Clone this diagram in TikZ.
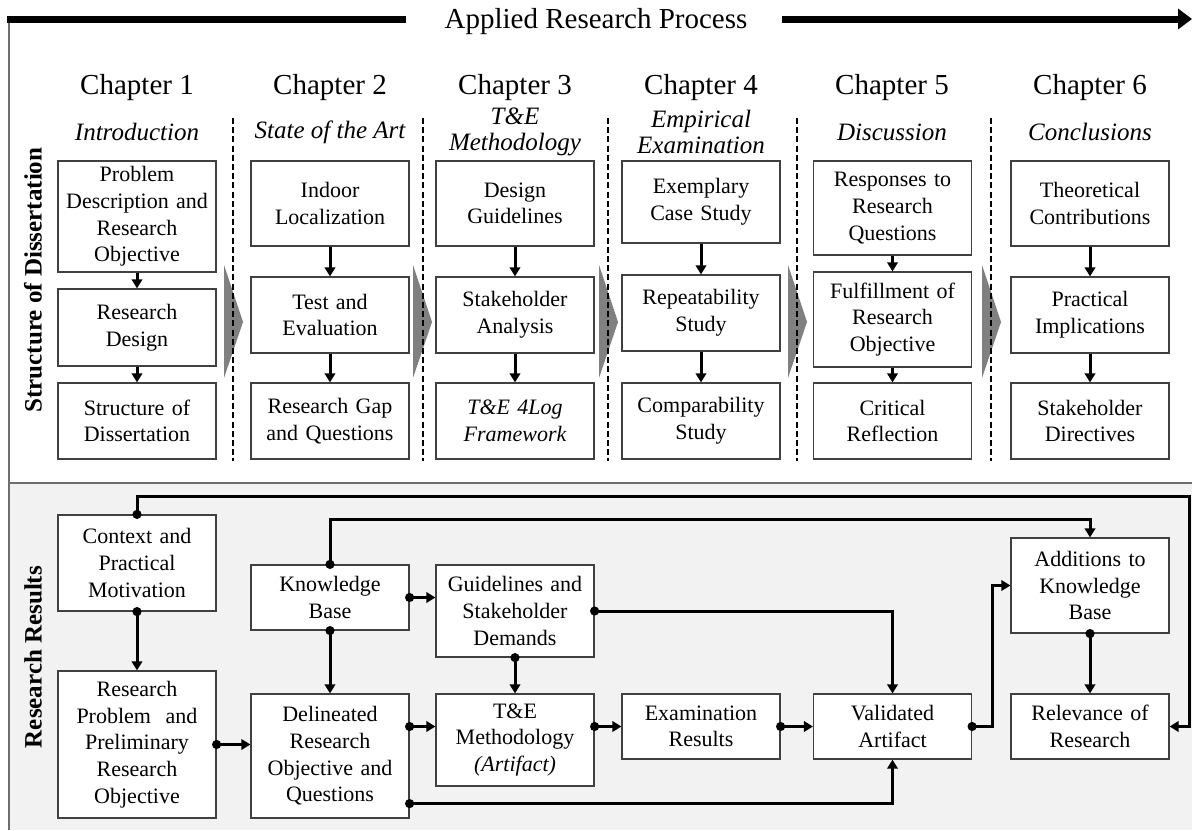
\documentclass[tikz,border=0pt]{standalone}
\usepackage{fontspec}
\setmainfont{Liberation Serif}
\usetikzlibrary{arrows.meta}
\definecolor{panelgray}{HTML}{F2F2F2}
\definecolor{framegray}{HTML}{6E6E6E}
\definecolor{boxline}{HTML}{404040}
\definecolor{chevgray}{HTML}{808080}
\newcommand\jdot[1]{\fill (#1) circle[radius=2.3pt];}
\begin{document}
\begin{tikzpicture}[x=0.5pt,y=-0.5pt,
  bx/.style={draw=boxline, fill=white, line width=0.6pt, minimum width=79pt,
    minimum height=#1*0.5pt, text width=77pt, align=center, inner sep=0pt,
    font=\fontsize{11}{13.3}\selectfont},
  bxi/.style={bx=#1, font=\fontsize{11}{13.3}\selectfont\itshape},
  flow/.style={line width=1.5pt, -{Triangle[length=4.5pt,width=5.2pt]}},
  divider/.style={line width=1.1pt, dash pattern=on 3pt off 1.6pt},
  topbar/.style={line width=3.5pt},
  chap/.style={font=\fontsize{14.5}{17}\selectfont},
  sub/.style={font=\fontsize{12.5}{13}\selectfont\itshape, align=center},
  side/.style={font=\fontsize{12.5}{15}\selectfont\bfseries, rotate=90},
  chevron/.style={fill=chevgray},
]
\useasboundingbox (0,0) rectangle (1192,830);

% lower panel and frame
\fill[panelgray] (9,483) rectangle (1192,830);
\draw[framegray, line width=0.9pt] (9,483) -- (1192,483);
\draw[framegray, line width=0.6pt] (9,19) -- (9,830);

% process arrow across the top
\node[font=\fontsize{14.5}{17}\selectfont] (ttl) at (596,22) {Applied Research Process};
\coordinate (barL0) at (7,19);
\coordinate (barL1) at (406,19);
\coordinate (barR0) at (782,19);
\coordinate (barR1) at (1192,19);
\draw[topbar] (barL0) -- (barL1);
\draw[topbar, -{Triangle[length=7pt,width=10pt]}] (barR0) -- (barR1);

% side labels
\node[side] (lblA) at (33,280) {Structure of Dissertation};
\node[side] (lblB) at (33,657) {Research Results};

% chapter headings
\node[chap] (h1) at (137,88) {Chapter 1};
\node[chap] (h2) at (330,88) {Chapter 2};
\node[chap] (h3) at (515,88) {Chapter 3};
\node[chap] (h4) at (701,88) {Chapter 4};
\node[chap] (h5) at (892,88) {Chapter 5};
\node[chap] (h6) at (1090,88) {Chapter 6};
\node[sub] (s1) at (137,132) {Introduction};
\node[sub] (s2) at (330,132) {State of the Art};
\node[sub] (s3) at (515,132) {T\&E\\Methodology};
\node[sub] (s4) at (701,132) {Empirical\\Examination};
\node[sub] (s5) at (892,132) {Discussion};
\node[sub] (s6) at (1090,132) {Conclusions};

% chevrons between chapters
\fill[chevron] (224,265) -- (243,322) -- (224,378) -- cycle;
\fill[chevron] (413,265) -- (432,322) -- (413,378) -- cycle;
\fill[chevron] (599,265) -- (618,322) -- (599,378) -- cycle;
\fill[chevron] (788,265) -- (807,322) -- (788,378) -- cycle;
\fill[chevron] (982,265) -- (1001,322) -- (982,378) -- cycle;

% chapter dividers
\foreach \x in {233,423,608,797,991}
  \draw[divider] (\x,118) -- (\x,461);

% chapter contents
\node[bx=111] (a1) at (137,216.5) {Problem\\Description and\\Research\\Objective};
\node[bx=77]  (a2) at (137,327.5) {Research\\Design};
\node[bx=76]  (a3) at (137,421) {Structure of\\Dissertation};

\node[bx=85] (b1) at (330,203.5) {Indoor\\Localization};
\node[bx=76] (b2) at (330,315) {Test and\\Evaluation};
\node[bx=76] (b3) at (330,421) {Research Gap\\and Questions};

\node[bx=85]  (c1) at (515,203.5) {Design\\Guidelines};
\node[bx=76]  (c2) at (515,315) {Stakeholder\\Analysis};
\node[bxi=76] (c3) at (515,421) {T\&E 4Log\\Framework};

\node[bx=82] (d1) at (701,202) {Exemplary\\Case Study};
\node[bx=76] (d2) at (701,313) {Repeatability\\Study};
\node[bx=76] (d3) at (701,421) {Comparability\\Study};

\node[bx=94] (e1) at (892.5,208) {Responses to\\Research\\Questions};
\node[bx=95] (e2) at (892.5,319.5) {Fulfillment of\\Research\\Objective};
\node[bx=76] (e3) at (892.5,421) {Critical\\Reflection};

\node[bx=85] (f1) at (1090,203.5) {Theoretical\\Contributions};
\node[bx=76] (f2) at (1090,315) {Practical\\Implications};
\node[bx=76] (f3) at (1090,421) {Stakeholder\\Directives};

\foreach \c in {a,b,c,d,e,f}{
  \draw[flow] (\c1.south) -- (\c2.north);
  \draw[flow] (\c2.south) -- (\c3.north);
}

% research results
\node[bx=96]  (ctx)  at (137,563)    {Context and\\Practical\\Motivation};
\node[bx=147] (rp)   at (137,744.5)  {Research\\Problem~ and\\Preliminary\\Research\\Objective};
\node[bx=65]  (kb)   at (330,597.5)  {Knowledge\\Base};
\node[bx=124] (del)  at (330,756)    {Delineated\\Research\\Objective and\\Questions};
\node[bx=92]  (gsd)  at (515,611)    {Guidelines and\\Stakeholder\\Demands};
\node[bx=92]  (tem)  at (515,740)    {T\&E\\Methodology\\\textit{(Artifact)}};
\node[bx=65]  (exam) at (701,726.5)  {Examination\\Results};
\node[bx=65]  (val)  at (892.5,726.5){Validated\\Artifact};
\node[bx=95]  (add)  at (1090,585.5) {Additions to\\Knowledge\\Base};
\node[bx=65]  (rel)  at (1090,726.5) {Relevance of\\Research};

\coordinate (loopA) at (1189,496);
\coordinate (loopB) at (1090,519);
\coordinate (lowD)  at ([yshift=7.5pt]del.south east);

\draw[flow] (ctx.north) -- (ctx.north |- loopA) -- (loopA) -- (loopA |- rel.east) -- (rel.east);
\jdot{ctx.north}
\draw[flow] (kb.north) -- (kb.north |- loopB) -- (loopB) -- (add.north);
\jdot{kb.north}
\draw[flow] (ctx.south) -- (rp.north);
\jdot{ctx.south}
\draw[flow] (rp.east) -- (del.west |- rp.east);
\jdot{rp.east}
\draw[flow] (kb.south) -- (del.north);
\jdot{kb.south}
\draw[flow] (kb.east) -- (gsd.west |- kb.east);
\jdot{kb.east}
\draw[flow] (gsd.east) -| (val.north);
\jdot{gsd.east}
\draw[flow] (gsd.south) -- (tem.north);
\jdot{gsd.south}
\draw[flow] (del.east |- exam.west) -- (tem.west |- exam.west);
\jdot{del.east |- exam.west}
\draw[flow] (lowD) -| (val.south);
\jdot{lowD}
\draw[flow] (tem.east |- exam.west) -- (exam.west);
\jdot{tem.east |- exam.west}
\draw[flow] (exam.east) -- (val.west);
\jdot{exam.east}
\draw[flow] (val.east) -- ++(20,0) |- (add.west);
\jdot{val.east}
\draw[flow] (add.south) -- (rel.north);
\jdot{add.south}
\end{tikzpicture}
\end{document}
